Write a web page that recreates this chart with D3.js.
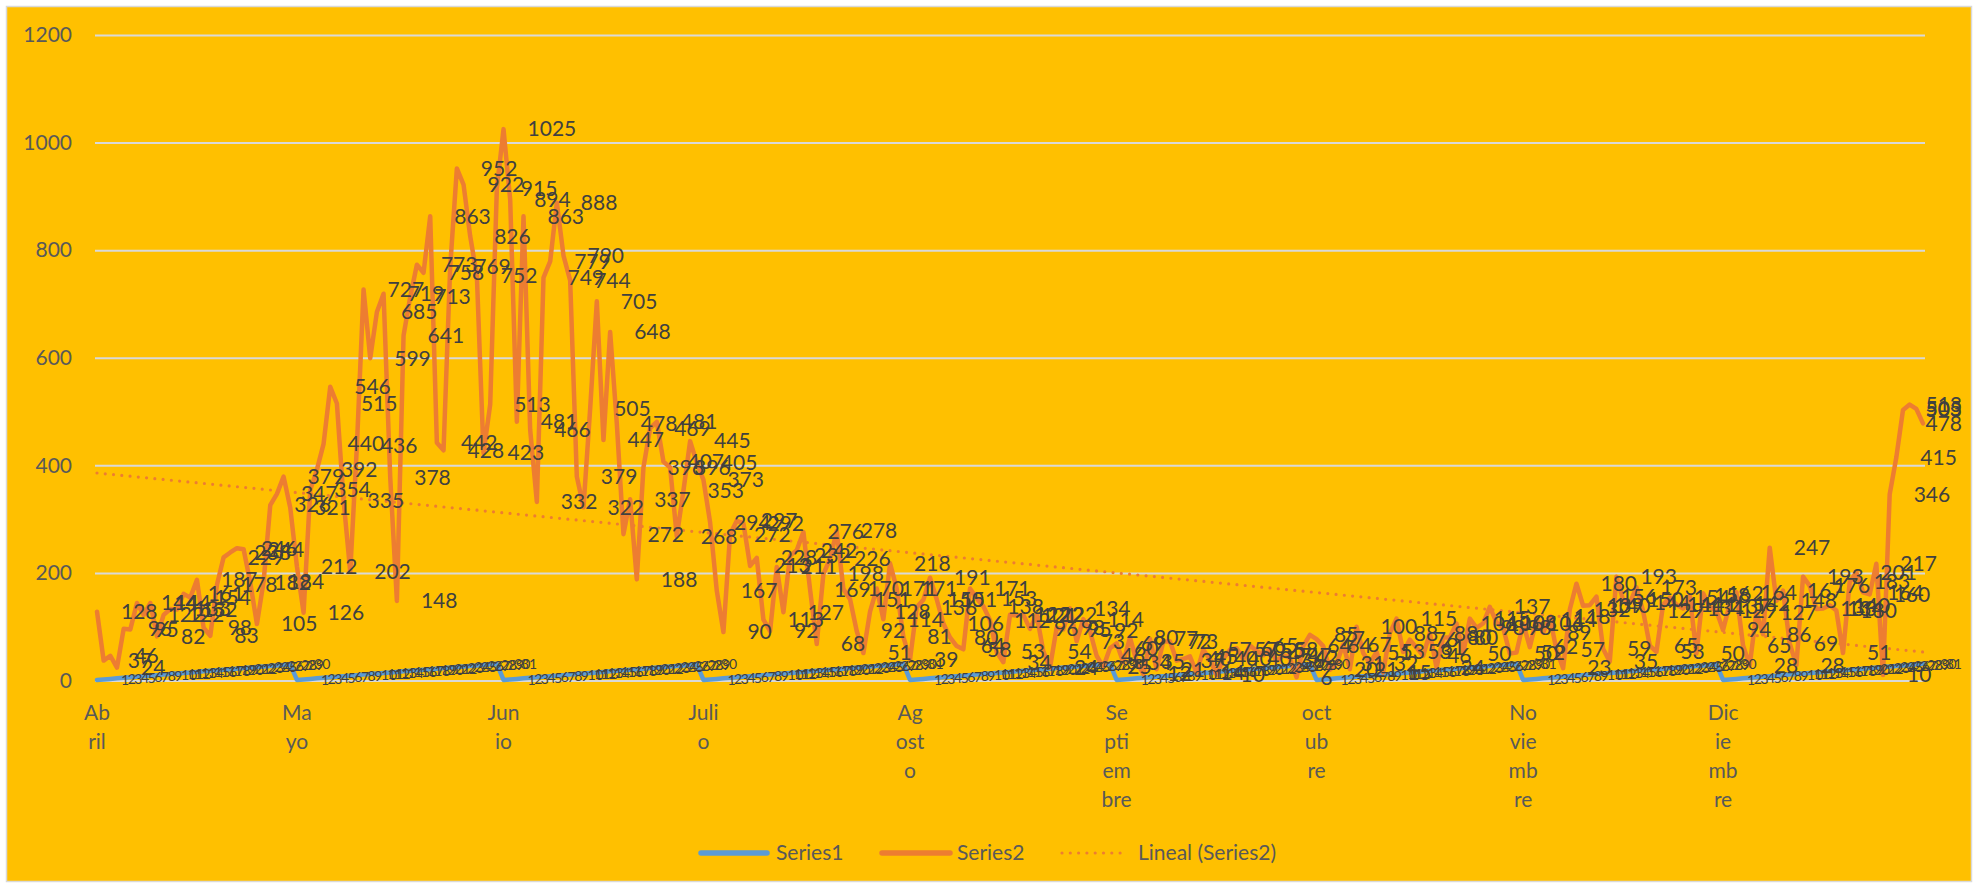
<!DOCTYPE html>
<html>
<head>
<meta charset="utf-8">
<script src="https://cdn.jsdelivr.net/npm/d3@7/dist/d3.min.js"></script>
<style>
  html, body { margin: 0; padding: 0; background: #ffffff; }
  svg { display: block; font-family: Lato, "Open Sans", sans-serif; }
</style>
</head>
<body>
<div id="chart"></div>
<script>
// Series2 values, one array per month
const abril = [128, 37, 46, 24, 96, 95, 144, 122, 144, 82, 122, 133, 132, 161, 154, 187, 98, 83, 178, 229,
  238, 246, 244, 182, 105, 184, 326, 347, 379, 321];
const mayo = [212, 126, 354, 392, 440, 546, 515, 335, 202, 436, 727, 599, 685, 719, 378, 148, 641, 713, 773, 758,
  863, 442, 428, 769, 952, 922, 826, 752, 423, 513, 915];
const junio = [1025, 894, 481, 863, 466, 332, 749, 779, 888, 790, 744, 379, 322, 505, 705, 447, 648, 478, 272, 337,
  188, 396, 469, 481, 407, 396, 268, 353, 445, 405];
const julio = [373, 294, 167, 90, 272, 297, 292, 213, 228, 113, 92, 211, 127, 232, 242, 276, 169, 68, 198, 226,
  278, 170, 151, 92, 51, 128, 171, 114, 218, 171, 81];
const agosto = [39, 136, 150, 191, 151, 106, 80, 64, 58, 171, 153, 138, 112, 53, 34, 122, 121, 122, 96, 122,
  54, 24, 98, 95, 134, 73, 114, 92, 46, 25, 60];
const septiembre = [69, 34, 80, 35, 12, 77, 21, 72, 73, 37, 40, 45, 14, 57, 40, 10, 40, 57, 60, 40,
  65, 55, 47, 58, 36, 47, 42, 6, 64, 85];
const octubre = [77, 64, 20, 31, 67, 21, 100, 51, 32, 53, 15, 88, 115, 53, 76, 61, 46, 88, 24, 80,
  80, 106, 50, 115, 98, 106, 137, 108, 98, 50, 52];
const noviembre = [106, 62, 114, 89, 118, 57, 23, 132, 180, 139, 140, 156, 59, 35, 193, 150, 144, 173, 129, 65,
  53, 141, 154, 141, 134, 158, 50, 162, 137, 129];
const diciembre = [94, 142, 164, 65, 28, 127, 86, 247, 148, 167, 69, 28, 193, 176, 133, 134, 140, 130, 51, 183,
  201, 164, 160, 217, 10, 346, 415, 503, 513, 505, 478];

// Series1 is the day of the month
const dias30 = [1, 2, 3, 4, 5, 6, 7, 8, 9, 10, 11, 12, 13, 14, 15, 16, 17, 18, 19, 20, 21, 22, 23, 24, 25, 26, 27, 28, 29, 30];
const dias31 = [1, 2, 3, 4, 5, 6, 7, 8, 9, 10, 11, 12, 13, 14, 15, 16, 17, 18, 19, 20, 21, 22, 23, 24, 25, 26, 27, 28, 29, 30, 31];

// category labels as Excel wraps them
const monthLabels = [["Ab", "ril"], ["Ma", "yo"], ["Jun", "io"], ["Juli", "o"], ["Ag", "ost", "o"],
  ["Se", "pti", "em", "bre"], ["oct", "ub", "re"], ["No", "vie", "mb", "re"], ["Dic", "ie", "mb", "re"]];
const yTicks = [0, 200, 400, 600, 800, 1000, 1200];
const legendNames = ["Series1", "Series2", "Lineal (Series2)"];

const months = [abril, mayo, junio, julio, agosto, septiembre, octubre, noviembre, diciembre];
const series2 = [].concat(...months);
const series1 = [].concat(dias30, dias31, dias30, dias31, dias31, dias30, dias31, dias30, dias31);
const n = series2.length;

const W = 1978, H = 888;
const svg = d3.select("#chart").append("svg").attr("width", W).attr("height", H);

svg.append("rect")
    .attr("x", 6.5).attr("y", 6.5)
    .attr("width", W - 13).attr("height", H - 13)
    .attr("fill", "#FFC000")
    .attr("stroke", "#D9D9D9")
    .attr("stroke-width", 1.5);

const x = d3.scaleLinear().domain([0, n - 1]).range([97, 1923]);
const y = d3.scaleLinear().domain([0, 1200]).range([680.5, 35]);
const labelRight = 1962; // labels are kept inside the chart area

// gridlines + y labels
const yAxis = svg.append("g")
    .attr("transform", "translate(95,0)")
    .call(d3.axisLeft(y).tickValues(yTicks).tickFormat(d3.format("d")).tickSize(-1830).tickPadding(23));
yAxis.select(".domain").remove();
yAxis.selectAll("line").attr("stroke", "#D9D9D9").attr("stroke-width", 2);
yAxis.selectAll("text")
    .attr("fill", "#595959")
    .style("font-size", "21px")
    .style("font-family", "Lato, sans-serif");

// month labels at first day of each month
let start = 0;
const monthStarts = months.map(m => { const s = start; start += m.length; return s; });
const catG = svg.append("g").attr("fill", "#595959").style("font-size", "21px");
monthLabels.forEach((lines, k) => {
    const t = catG.append("text").attr("text-anchor", "middle");
    lines.forEach((ln, j) => {
        t.append("tspan").attr("x", x(monthStarts[k])).attr("y", 720 + j * 29).text(ln);
    });
});

const line = d3.line().x((d, i) => x(i)).y(d => y(d));

svg.append("path")
    .datum(series1)
    .attr("fill", "none")
    .attr("stroke", "#5B9BD5")
    .attr("stroke-width", 4.5)
    .attr("stroke-linejoin", "round")
    .attr("stroke-linecap", "round")
    .attr("d", line);

svg.append("path")
    .datum(series2)
    .attr("fill", "none")
    .attr("stroke", "#ED7D31")
    .attr("stroke-width", 4.5)
    .attr("stroke-linejoin", "round")
    .attr("stroke-linecap", "round")
    .attr("d", line);

// linear trendline of Series2 (least squares, like Excel)
const mx = (n - 1) / 2, my = d3.mean(series2);
let sxy = 0, sxx = 0;
series2.forEach((d, i) => { sxy += (i - mx) * (d - my); sxx += (i - mx) * (i - mx); });
const slope = sxy / sxx, icpt = my - slope * mx;
svg.append("line")
    .attr("x1", x(0)).attr("y1", y(icpt))
    .attr("x2", x(n - 1)).attr("y2", y(icpt + slope * (n - 1)))
    .attr("stroke", "#ED7D31")
    .attr("stroke-width", 3.2)
    .attr("stroke-linecap", "round")
    .attr("stroke-dasharray", "0 8.3");

// data labels (right of each point, pulled back at the right edge)
function addLabels(data, size) {
    svg.append("g")
        .attr("fill", "#404040")
        .style("font-size", size)
        .selectAll("text")
        .data(data)
        .join("text")
        .attr("y", d => y(d))
        .attr("dy", "0.35em")
        .text(d => d)
        .attr("x", function(d, i) {
            const w = this.getComputedTextLength();
            return Math.min(x(i) + 24, labelRight - w);
        });
}
addLabels(series1, "14px");
addLabels(series2, "21px");

// legend
const lg = svg.append("g").style("font-size", "21px").attr("fill", "#595959");
const ly = 853;
lg.append("line").attr("x1", 701).attr("x2", 767).attr("y1", ly).attr("y2", ly)
    .attr("stroke", "#5B9BD5").attr("stroke-width", 5.5).attr("stroke-linecap", "round");
lg.append("text").attr("x", 776).attr("y", ly).attr("dy", "0.35em").text(legendNames[0]);
lg.append("line").attr("x1", 882).attr("x2", 950).attr("y1", ly).attr("y2", ly)
    .attr("stroke", "#ED7D31").attr("stroke-width", 5.5).attr("stroke-linecap", "round");
lg.append("text").attr("x", 957).attr("y", ly).attr("dy", "0.35em").text(legendNames[1]);
lg.append("line").attr("x1", 1062).attr("x2", 1124).attr("y1", ly).attr("y2", ly)
    .attr("stroke", "#ED7D31").attr("stroke-width", 3.2).attr("stroke-linecap", "round")
    .attr("stroke-dasharray", "0 8.3");
lg.append("text").attr("x", 1138).attr("y", ly).attr("dy", "0.35em").text(legendNames[2]);
</script>
</body>
</html>
